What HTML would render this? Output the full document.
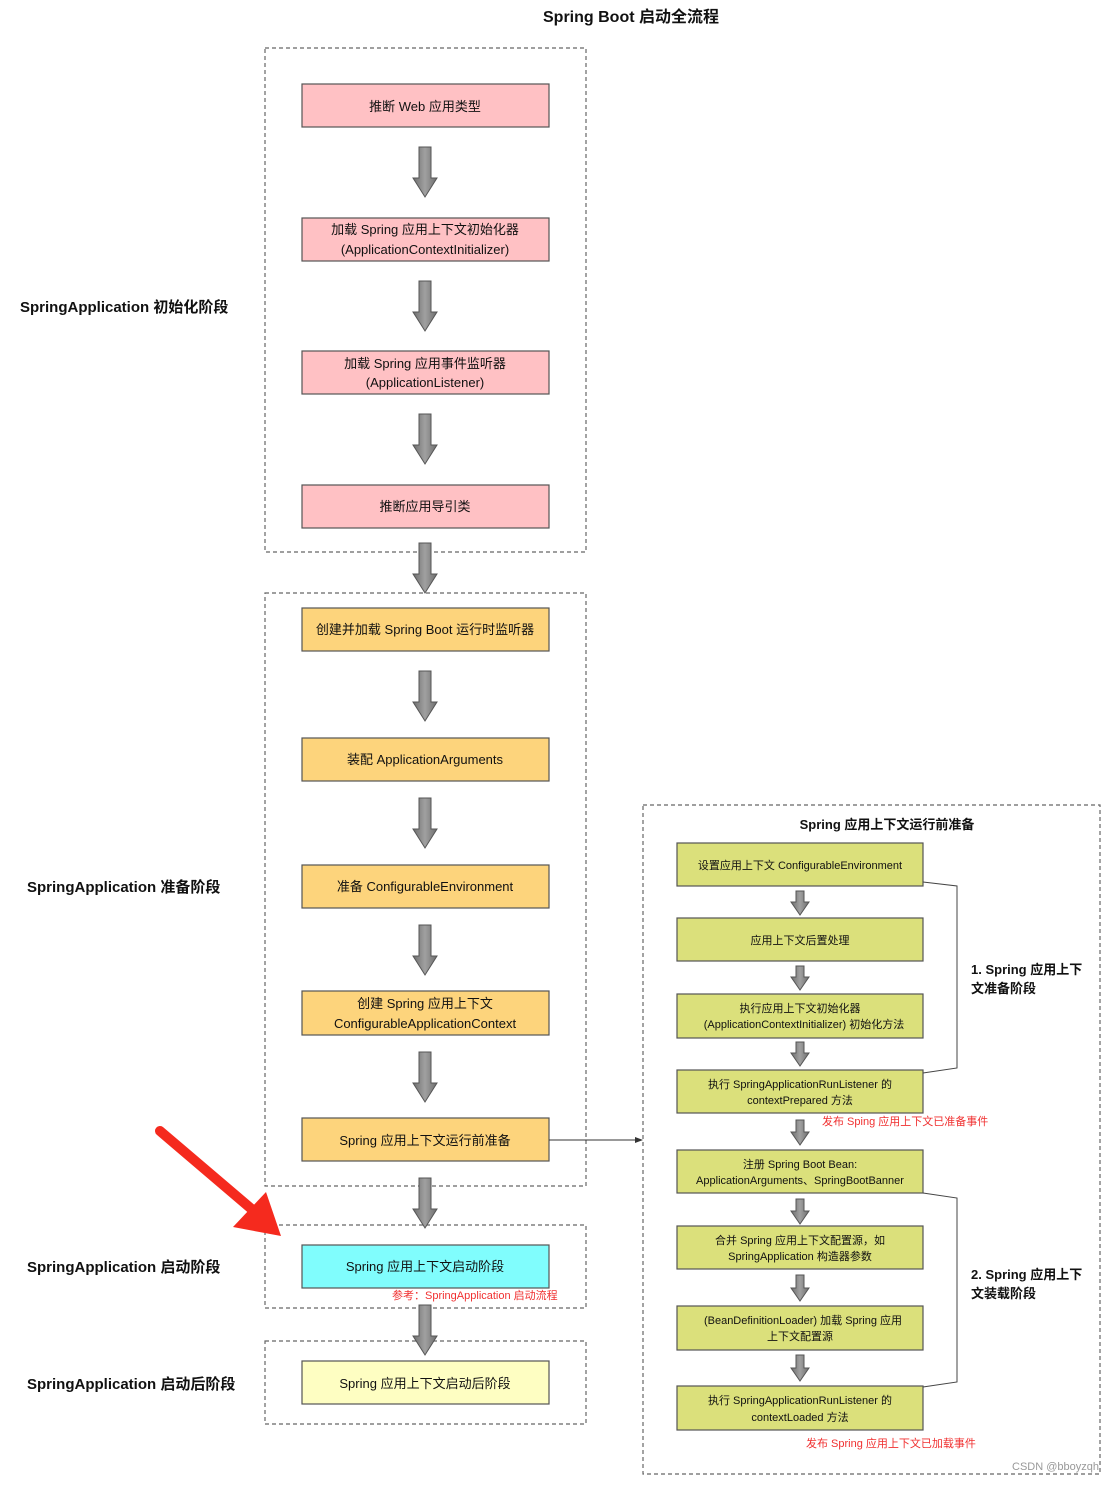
<!DOCTYPE html>
<html><head><meta charset="utf-8">
<style>
html,body{margin:0;padding:0;background:#fff;}
svg text{font-family:"Liberation Sans","Noto Sans CJK SC",sans-serif;}
</style></head>
<body>
<svg width="1120" height="1482" viewBox="0 0 1120 1482" xmlns="http://www.w3.org/2000/svg">
<defs>
<linearGradient id="g" x1="0" x2="1" y1="0" y2="0">
<stop offset="0" stop-color="#6e6e6e"/><stop offset="0.5" stop-color="#a0a0a0"/><stop offset="1" stop-color="#6e6e6e"/>
</linearGradient>
</defs>
<style>
.c{fill:none;stroke:#666;stroke-width:1.2;stroke-dasharray:4 3;}
.b{stroke:#555;stroke-width:1.2;}
.t{font-size:13px;fill:#111;text-anchor:middle;}
.s{font-size:11px;fill:#111;text-anchor:middle;}
.l{font-size:15px;fill:#111;font-weight:bold;}
.r{font-size:11px;fill:#f03030;}
.a{fill:url(#g);stroke:#555;stroke-width:1;}
</style>

<text x="631" y="22" style="font-size:16px;font-weight:bold;text-anchor:middle;fill:#111">Spring Boot 启动全流程</text>

<!-- containers -->
<rect class="c" x="265" y="48" width="321" height="504"/>
<rect class="c" x="265" y="593" width="321" height="593"/>
<rect class="c" x="265" y="1225" width="321" height="83"/>
<rect class="c" x="265" y="1341" width="321" height="83"/>
<rect class="c" x="643" y="805" width="457" height="669"/>

<!-- left labels -->
<text class="l" x="20" y="312">SpringApplication 初始化阶段</text>
<text class="l" x="27" y="892">SpringApplication 准备阶段</text>
<text class="l" x="27" y="1272">SpringApplication 启动阶段</text>
<text class="l" x="27" y="1389">SpringApplication 启动后阶段</text>

<!-- pink boxes -->
<g fill="#ffc1c4">
<rect class="b" x="302" y="84" width="247" height="43"/>
<rect class="b" x="302" y="218" width="247" height="43"/>
<rect class="b" x="302" y="351" width="247" height="43"/>
<rect class="b" x="302" y="485" width="247" height="43"/>
</g>
<text class="t" x="425" y="111">推断 Web 应用类型</text>
<text class="t" x="425" y="234">加载 Spring 应用上下文初始化器</text>
<text class="t" x="425" y="254">(ApplicationContextInitializer)</text>
<text class="t" x="425" y="368">加载 Spring 应用事件监听器</text>
<text class="t" x="425" y="387">(ApplicationListener)</text>
<text class="t" x="425" y="511">推断应用导引类</text>

<!-- orange boxes -->
<g fill="#fdd47c">
<rect class="b" x="302" y="608" width="247" height="43"/>
<rect class="b" x="302" y="738" width="247" height="43"/>
<rect class="b" x="302" y="865" width="247" height="43"/>
<rect class="b" x="302" y="991" width="247" height="44"/>
<rect class="b" x="302" y="1118" width="247" height="43"/>
</g>
<text class="t" x="425" y="634">创建并加载 Spring Boot 运行时监听器</text>
<text class="t" x="425" y="764">装配 ApplicationArguments</text>
<text class="t" x="425" y="891">准备 ConfigurableEnvironment</text>
<text class="t" x="425" y="1008">创建 Spring 应用上下文</text>
<text class="t" x="425" y="1028">ConfigurableApplicationContext</text>
<text class="t" x="425" y="1145">Spring 应用上下文运行前准备</text>

<rect class="b" x="302" y="1245" width="247" height="43" fill="#80fdfd"/>
<text class="t" x="425" y="1271">Spring 应用上下文启动阶段</text>
<text class="r" x="392" y="1299">参考：SpringApplication 启动流程</text>

<rect class="b" x="302" y="1361" width="247" height="43" fill="#fefec2"/>
<text class="t" x="425" y="1388">Spring 应用上下文启动后阶段</text>

<!-- big gray arrows -->
<g>
<path class="a" d="M419,147 h12 v31 h6 l-12,19 l-12,-19 h6z"/>
<path class="a" d="M419,281 h12 v31 h6 l-12,19 l-12,-19 h6z"/>
<path class="a" d="M419,414 h12 v31 h6 l-12,19 l-12,-19 h6z"/>
<path class="a" d="M419,543 h12 v31 h6 l-12,19 l-12,-19 h6z"/>
<path class="a" d="M419,671 h12 v31 h6 l-12,19 l-12,-19 h6z"/>
<path class="a" d="M419,798 h12 v31 h6 l-12,19 l-12,-19 h6z"/>
<path class="a" d="M419,925 h12 v31 h6 l-12,19 l-12,-19 h6z"/>
<path class="a" d="M419,1052 h12 v31 h6 l-12,19 l-12,-19 h6z"/>
<path class="a" d="M419,1178 h12 v31 h6 l-12,19 l-12,-19 h6z"/>
<path class="a" d="M419,1305 h12 v31 h6 l-12,19 l-12,-19 h6z"/>
</g>

<!-- connector -->
<line x1="549" y1="1140" x2="636" y2="1140" stroke="#333" stroke-width="1"/>
<path d="M643,1140 l-8,-3 v6z" fill="#333"/>

<!-- right panel -->
<text x="887" y="829" style="font-size:13px;font-weight:bold;text-anchor:middle;fill:#111">Spring 应用上下文运行前准备</text>
<g fill="#dbe07b">
<rect class="b" x="677" y="843" width="246" height="43"/>
<rect class="b" x="677" y="918" width="246" height="43"/>
<rect class="b" x="677" y="994" width="246" height="44"/>
<rect class="b" x="677" y="1070" width="246" height="43"/>
<rect class="b" x="677" y="1150" width="246" height="43"/>
<rect class="b" x="677" y="1226" width="246" height="43"/>
<rect class="b" x="677" y="1306" width="246" height="44"/>
<rect class="b" x="677" y="1386" width="246" height="44"/>
</g>
<text class="s" x="800" y="869">设置应用上下文 ConfigurableEnvironment</text>
<text class="s" x="800" y="944">应用上下文后置处理</text>
<text class="s" x="800" y="1012">执行应用上下文初始化器</text>
<text class="s" x="804" y="1028">(ApplicationContextInitializer) 初始化方法</text>
<text class="s" x="800" y="1088">执行 SpringApplicationRunListener 的</text>
<text class="s" x="800" y="1104">contextPrepared 方法</text>
<text class="s" x="800" y="1168">注册 Spring Boot Bean:</text>
<text class="s" x="800" y="1184">ApplicationArguments、SpringBootBanner</text>
<text class="s" x="800" y="1244">合并 Spring 应用上下文配置源，如</text>
<text class="s" x="800" y="1260">SpringApplication 构造器参数</text>
<text class="s" x="803" y="1324">(BeanDefinitionLoader) 加载 Spring 应用</text>
<text class="s" x="800" y="1340">上下文配置源</text>
<text class="s" x="800" y="1404">执行 SpringApplicationRunListener 的</text>
<text class="s" x="800" y="1421">contextLoaded 方法</text>

<g>
<path class="a" d="M796,891 h8 v11 h5 l-9,13 l-9,-13 h5z"/>
<path class="a" d="M796,966 h8 v11 h5 l-9,13 l-9,-13 h5z"/>
<path class="a" d="M796,1042 h8 v11 h5 l-9,13 l-9,-13 h5z"/>
<path class="a" d="M796,1120 h8 v12 h5 l-9,13 l-9,-13 h5z"/>
<path class="a" d="M796,1199 h8 v12 h5 l-9,13 l-9,-13 h5z"/>
<path class="a" d="M796,1275 h8 v13 h5 l-9,13 l-9,-13 h5z"/>
<path class="a" d="M796,1355 h8 v13 h5 l-9,13 l-9,-13 h5z"/>
</g>
<text class="r" x="822" y="1125">发布 Sping 应用上下文已准备事件</text>
<text class="r" x="806" y="1447">发布 Spring 应用上下文已加载事件</text>

<polyline points="923,882 957,886 957,1068 923,1073" fill="none" stroke="#444" stroke-width="1"/>
<polyline points="923,1193 957,1198 957,1382 923,1387" fill="none" stroke="#444" stroke-width="1"/>
<text x="971" y="974" style="font-size:13px;font-weight:bold;fill:#111">1. Spring 应用上下</text>
<text x="971" y="993" style="font-size:13px;font-weight:bold;fill:#111">文准备阶段</text>
<text x="971" y="1279" style="font-size:13px;font-weight:bold;fill:#111">2. Spring 应用上下</text>
<text x="971" y="1298" style="font-size:13px;font-weight:bold;fill:#111">文装载阶段</text>

<!-- red pointer arrow -->
<line x1="160" y1="1131" x2="255" y2="1212" stroke="#f52a1e" stroke-width="10" stroke-linecap="round"/>
<polygon points="281,1236 233,1227 266,1192" fill="#f52a1e"/>

<text x="1012" y="1470" style="font-size:11px;fill:#999">CSDN @bboyzqh</text>
</svg>
</body></html>
